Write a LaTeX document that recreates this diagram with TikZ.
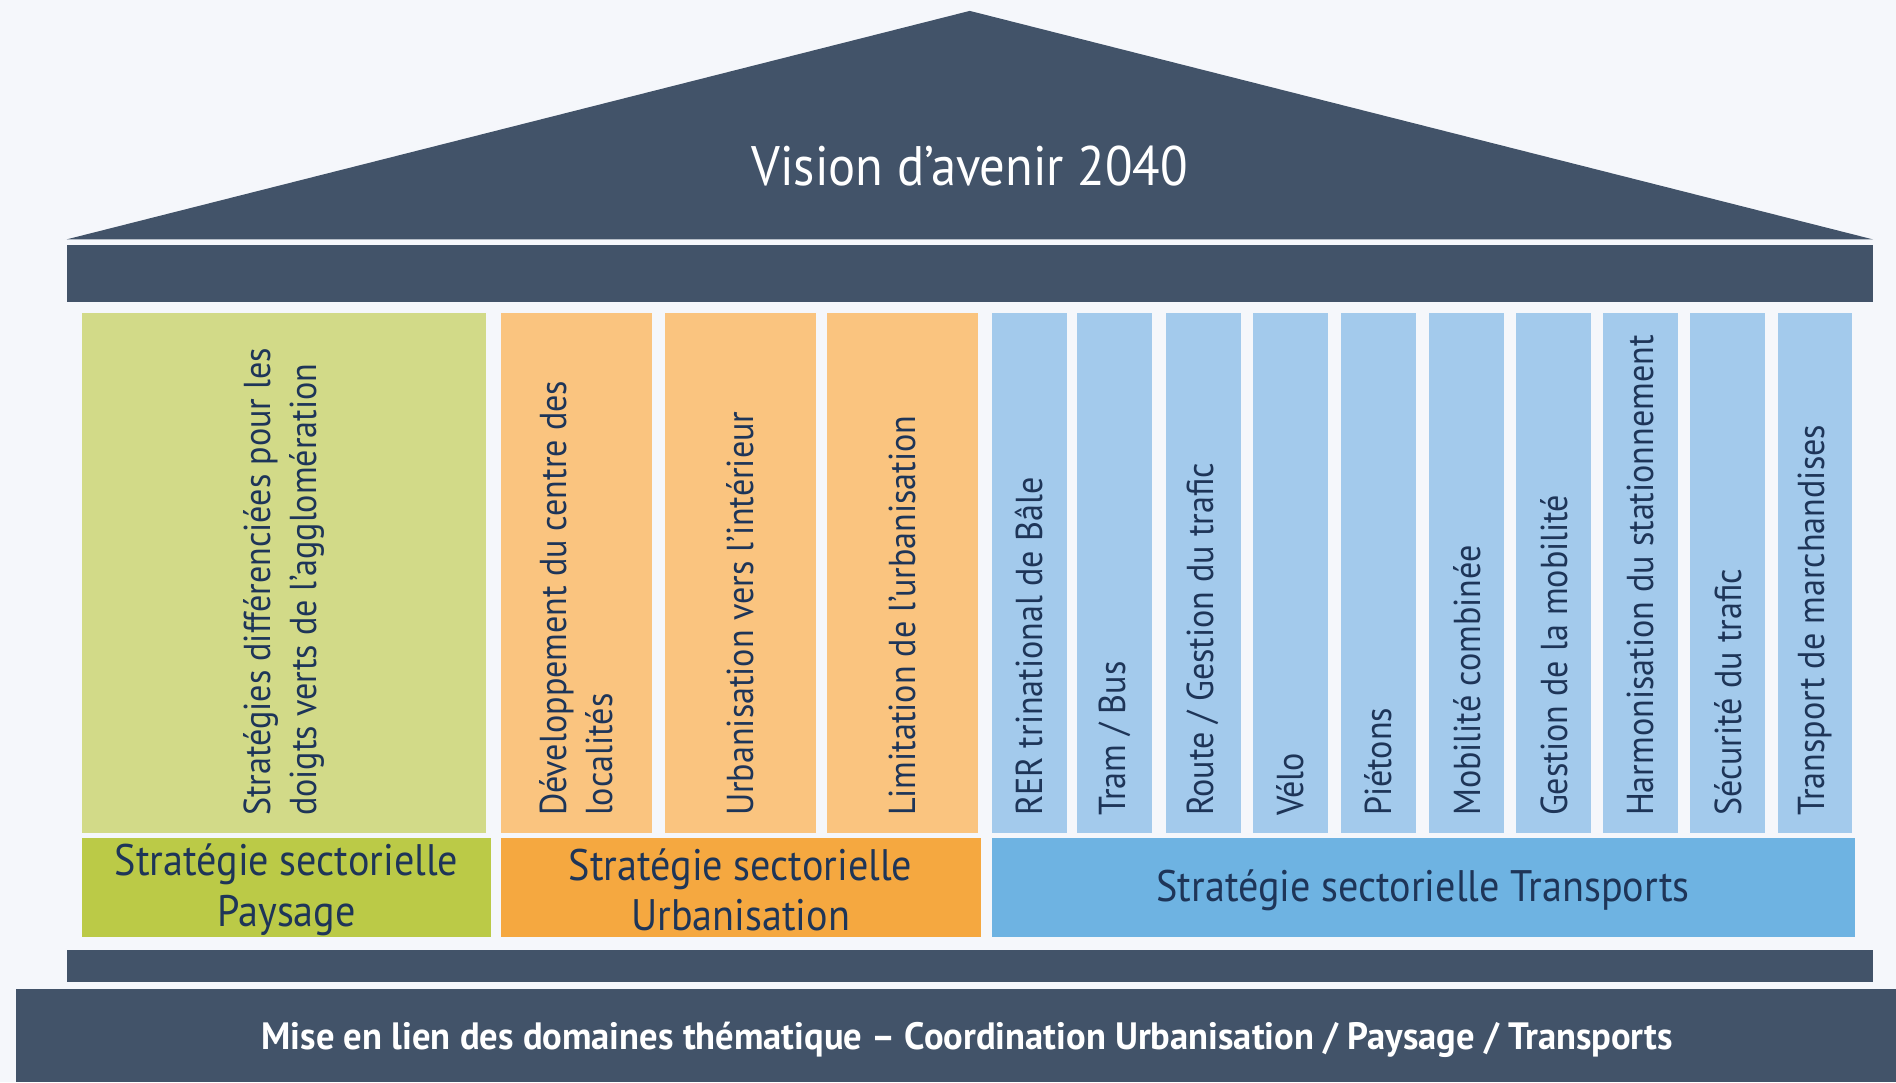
\documentclass[tikz,border=0pt]{standalone}
\usepackage{fontspec}
\setmainfont{PT Sans}
\newfontfamily\cf[FakeStretch=0.91]{PT Sans}
\newfontfamily\cfb[FakeStretch=0.96]{PT Sans Bold}
\definecolor{slate}{HTML}{425369}
\definecolor{bgc}{HTML}{F5F7FB}
\definecolor{navy}{HTML}{1E3558}
\definecolor{gcol}{HTML}{D2DA88}
\definecolor{glab}{HTML}{BBCA47}
\definecolor{ocol}{HTML}{FAC47F}
\definecolor{olab}{HTML}{F5A840}
\definecolor{bcol}{HTML}{A3CAEC}
\definecolor{blab}{HTML}{6EB3E2}
\tikzset{
  pillarbox/.style={rectangle, inner sep=0pt, outer sep=0pt, draw=none, anchor=north west, minimum height=430pt},
  coltext/.style={rotate=90, anchor=west, inner sep=0pt, text=navy, font=\cf\fontsize{31}{38}\selectfont, align=left},
  labbox/.style={rectangle, inner sep=0pt, outer sep=0pt, draw=none, anchor=north west, minimum height=82pt},
  labtext/.style={text=navy, font=\cf\fontsize{36.5}{42}\selectfont, align=center, inner sep=0pt},
}
\newcommand\pillar[5]{%
  \node[pillarbox, fill=#4, minimum width={(#3-#2)*1pt}] (#1) at (#2,-259) {};
  \node[coltext] (#1t) at ([yshift=14pt]#1.south) {#5};
}
\begin{document}
\begin{tikzpicture}[x=1pt,y=1pt]
\fill[bgc] (0,0) rectangle (1568,-895);
\useasboundingbox (0,0) rectangle (1568,-895);
% roof
\fill[slate] (802,-9) coordinate (apex) -- (1549,-198) coordinate (rr) -- (55,-198) coordinate (rl) -- cycle;
\node[text=white, font=\cf\fontsize{46}{52}\selectfont, inner sep=0pt] (title) at (802,-137) {Vision d’avenir 2040};
% top beam
\node[rectangle, fill=slate, inner sep=0pt, outer sep=0pt, anchor=north west, minimum width=1494pt, minimum height=47pt] (beam) at (55,-203) {};
% pillars
\pillar{p1}{68}{402}{gcol}{Stratégies différenciées pour les\\doigts verts de l’agglomération}
\pillar{p2}{414}{539}{ocol}{Développement du centre des\\localités}
\pillar{p3}{550}{675}{ocol}{Urbanisation vers l’intérieur}
\pillar{p4}{684}{809}{ocol}{Limitation de l’urbanisation}
\pillar{p5}{820}{882}{bcol}{RER trinational de Bâle}
\pillar{p6}{891}{953}{bcol}{Tram / Bus}
\pillar{p7}{964}{1026}{bcol}{Route / Gestion du trafic}
\pillar{p8}{1036}{1098}{bcol}{Vélo}
\pillar{p9}{1109}{1171}{bcol}{Piétons}
\pillar{p10}{1182}{1244}{bcol}{Mobilité combinée}
\pillar{p11}{1254}{1316}{bcol}{Gestion de la mobilité}
\pillar{p12}{1326}{1388}{bcol}{Harmonisation du stationnement}
\pillar{p13}{1398}{1460}{bcol}{Sécurité du trafic}
\pillar{p14}{1470}{1532}{bcol}{Transport de marchandises}
% labels
\node[labbox, fill=glab, minimum width=338pt] (lg) at (68,-693) {};
\node[labtext] (lgt) at ([yshift=-2pt]lg.center) {Stratégie sectorielle\\Paysage};
\node[labbox, fill=olab, minimum width=397pt] (lo) at (414,-693) {};
\node[labtext] (lot) at ([yshift=-2pt]lo.center) {Stratégie sectorielle\\Urbanisation};
\node[labbox, fill=blab, minimum width=714pt] (lb) at (820,-693) {};
\node[labtext] (lbt) at ([yshift=-2pt]lb.center) {Stratégie sectorielle Transports};
% lower beam
\node[rectangle, fill=slate, inner sep=0pt, outer sep=0pt, anchor=north west, minimum width=1494pt, minimum height=26pt] (lbeam) at (55,-786) {};
% base
\node[rectangle, fill=slate, inner sep=0pt, outer sep=0pt, anchor=north west, minimum width=1555pt, minimum height=77pt] (base) at (13,-818) {};
\node[text=white, font=\cfb\fontsize{31.5}{36}\selectfont, inner sep=0pt] (baset) at (800,-860) {Mise en lien des domaines thématique – Coordination Urbanisation / Paysage / Transports};
\end{tikzpicture}
\end{document}
